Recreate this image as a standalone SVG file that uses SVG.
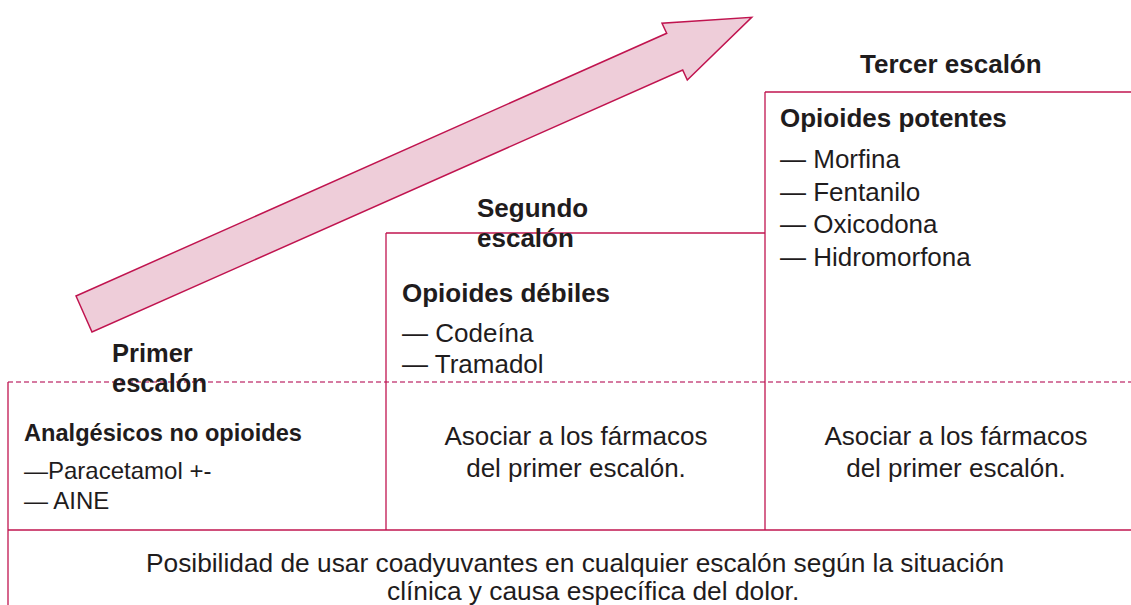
<svg xmlns="http://www.w3.org/2000/svg" width="1131" height="605" viewBox="0 0 1131 605">
<style>
text{font-family:"Liberation Sans",Arial,sans-serif;fill:#1f1c1d}
.h{font-weight:bold;font-size:26px}
.b{font-size:26px}
.s{font-size:24px}
.sb{font-weight:bold;font-size:23.6px}
.c{text-anchor:middle}
.ln{stroke:#c0144f;stroke-width:1.3;fill:none}
.dash{stroke:#c94f82;stroke-width:1.3;stroke-dasharray:5 3;fill:none}
</style>
<rect width="1131" height="605" fill="#ffffff"/>
<g id="arrow">
<polygon points="76,296 666.7,33.3 662,23.3 751.7,17.3 687.3,80 682.7,70 92,332" fill="#eecdd9" stroke="#c0144f" stroke-width="1.5" stroke-linejoin="miter"/>
</g>
<g id="connectors">
<line class="dash" x1="8" y1="382" x2="1131" y2="382"/>
<line class="ln" x1="8" y1="382" x2="8" y2="605"/>
<line class="ln" x1="386" y1="233" x2="386" y2="530"/>
<line class="ln" x1="386" y1="233" x2="765" y2="233"/>
<line class="ln" x1="765" y1="92" x2="765" y2="530"/>
<line class="ln" x1="765" y1="92" x2="1131" y2="92"/>
<line class="ln" x1="8" y1="530" x2="1131" y2="530" stroke-width="2"/>
</g>
<g id="step1">
<text class="h" x="112" y="362" style="font-size:25.5px">Primer</text>
<text class="h" x="112" y="392" style="font-size:25.5px">escalón</text>
<text class="sb" x="24" y="441">Analgésicos no opioides</text>
<text class="s" x="24" y="479">—Paracetamol +-</text>
<text class="s" x="24" y="509">— AINE</text>
</g>
<g id="step2">
<text class="h" x="477" y="217">Segundo</text>
<text class="h" x="477" y="247">escalón</text>
<text class="h" x="402" y="302">Opioides débiles</text>
<text class="b" x="402" y="342">— Codeína</text>
<text class="b" x="402" y="373">— Tramadol</text>
<text class="b c" x="576" y="445">Asociar a los fármacos</text>
<text class="b c" x="576" y="477">del primer escalón.</text>
</g>
<g id="step3">
<text class="h" x="860" y="73">Tercer escalón</text>
<text class="h" x="780" y="127">Opioides potentes</text>
<text class="b" x="780" y="168">— Morfina</text>
<text class="b" x="780" y="201">— Fentanilo</text>
<text class="b" x="780" y="233">— Oxicodona</text>
<text class="b" x="780" y="266">— Hidromorfona</text>
<text class="b c" x="956" y="445">Asociar a los fármacos</text>
<text class="b c" x="956" y="477">del primer escalón.</text>
</g>
<g id="adjuvants">
<text class="b" x="146" y="572" style="font-size:26.3px">Posibilidad de usar coadyuvantes en cualquier escalón según la situación</text>
<text class="b" x="387" y="600" style="font-size:26.3px">clínica y causa específica del dolor.</text>
</g>
</svg>
